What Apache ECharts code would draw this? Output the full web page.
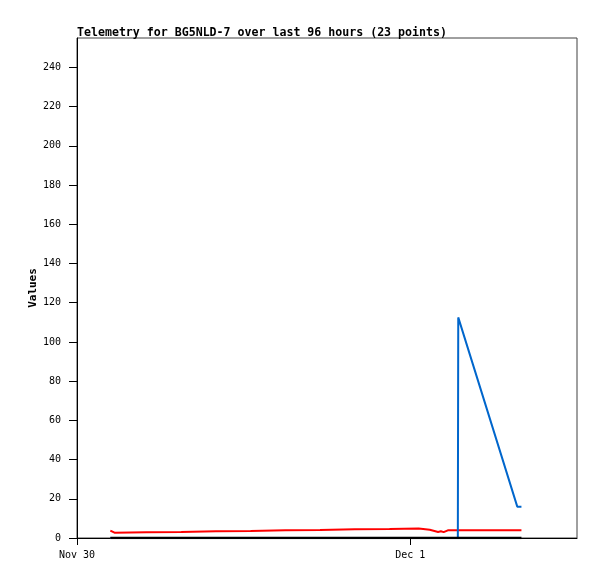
<!DOCTYPE html>
<html>
<head>
<meta charset="utf-8">
<script src="https://cdn.jsdelivr.net/npm/echarts@6/dist/echarts.min.js"></script>
<style>
  html, body { margin: 0; padding: 0; background: #fff; }
  #chart { width: 597px; height: 579px; }
</style>
</head>
<body>
<div id="chart"></div>
<script>
// hours after Nov 30 00:00
var hours = [2.4, 2.7, 5.0, 7.5, 10.0, 12.5, 15.0, 17.5, 20.0, 22.5, 24.6, 25.4,
  26.0, 26.2, 26.4, 26.7, 27.42, 27.45, 28.5, 29.5, 30.5, 31.7, 32.0]
var redValues = [3.8, 2.7, 2.9, 3.1, 3.4, 3.6, 3.9, 4.1, 4.4, 4.6, 4.8, 4.2,
  3.1, 3.4, 3.0, 3.9, 3.9, 3.9, 3.9, 3.9, 3.9, 3.9, 3.9]
var blueValues = [0, 0, 0, 0, 0, 0, 0, 0, 0, 0, 0, 0,
  0, 0, 0, 0, 0, 112.5, 88.7, 66, 43.3, 16, 16]
var blackValues = [0, 0, 0, 0, 0, 0, 0, 0, 0, 0, 0, 0,
  0, 0, 0, 0, 0, 0, 0, 0, 0, 0, 0]
var yTicks = [0, 20, 40, 60, 80, 100, 120, 140, 160, 180, 200, 220, 240]
var xTicks = [0, 24]
var xTickLabels = ['Nov 30', 'Dec 1']

var mono = 'DejaVu Sans Mono'

function pairs(vals) {
  return hours.map(function (h, i) { return [h, vals[i]] })
}

var chart = echarts.init(document.getElementById('chart'))
chart.setOption({
  animation: false,
  title: {
    text: 'Telemetry for BG5NLD-7 over last 96 hours (23 points)',
    left: 72,
    top: 22,
    textStyle: { fontFamily: mono, fontSize: 11.6, fontWeight: 'bold', color: '#000' }
  },
  grid: {
    left: 77, top: 38, right: 20, bottom: 41,
    show: true, borderColor: '#404040', borderWidth: 1
  },
  xAxis: {
    type: 'value',
    min: 0,
    max: 36,
    splitLine: { show: false },
    axisLine: { lineStyle: { color: '#000', width: 1 } },
    axisTick: { length: 7, customValues: xTicks, lineStyle: { color: '#000' } },
    axisLabel: {
      customValues: xTicks,
      margin: 12,
      fontFamily: mono,
      fontSize: 10,
      color: '#000',
      formatter: function (v) {
        var i = xTicks.indexOf(v)
        return i >= 0 ? xTickLabels[i] : ''
      }
    }
  },
  yAxis: {
    type: 'value',
    min: 0,
    max: 255,
    name: 'Values',
    nameLocation: 'middle',
    nameGap: 50,
    nameMoveOverlap: false,
    nameTextStyle: {
      fontFamily: mono, fontSize: 11, fontWeight: 'bold', color: '#000',
      padding: [0, 0, -12, 0]
    },
    splitLine: { show: false },
    axisLine: { show: true, lineStyle: { color: '#000', width: 1 } },
    axisTick: { show: true, length: 8, customValues: yTicks, lineStyle: { color: '#000' } },
    axisLabel: {
      customValues: yTicks,
      margin: 16,
      fontFamily: mono,
      fontSize: 10,
      color: '#000'
    }
  },
  series: [
    {
      type: 'line', data: pairs(redValues), showSymbol: false,
      lineStyle: { color: '#ff0000', width: 2 }, itemStyle: { color: '#ff0000' }
    },
    {
      type: 'line', data: pairs(blueValues), showSymbol: false,
      lineStyle: { color: '#0066cc', width: 2 }, itemStyle: { color: '#0066cc' }
    },
    {
      type: 'line', data: pairs(blackValues), showSymbol: false,
      lineStyle: { color: '#000', width: 2.5 }, itemStyle: { color: '#000' }
    }
  ]
})
</script>
</body>
</html>
